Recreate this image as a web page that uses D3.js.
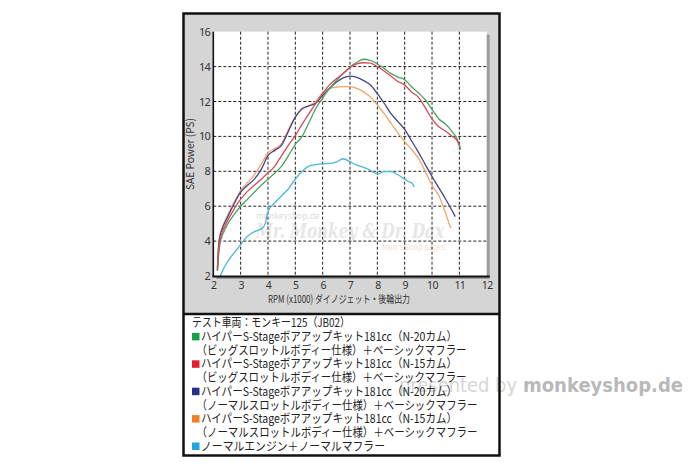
<!DOCTYPE html>
<html>
<head>
<meta charset="utf-8">
<script src="https://cdnjs.cloudflare.com/ajax/libs/d3/7.8.5/d3.min.js"></script>
<style>
  html, body { margin: 0; padding: 0; background: #fff; }
  svg { display: block; }
</style>
</head>
<body>
<svg id="chart" width="700" height="467"></svg>
<script>
// ---------- data ----------
const xTicks = [2, 3, 4, 5, 6, 7, 8, 9, 10, 11, 12];
const yTicks = [2, 4, 6, 8, 10, 12, 14, 16];

const rpmGreen = [2.15, 2.2, 2.25, 2.35, 2.5, 2.75, 3.0, 3.25, 3.5, 3.75, 4.0, 4.25, 4.5, 4.75, 5.0, 5.25, 5.5, 5.75, 6.0, 6.25, 6.5, 6.75, 7.0, 7.25, 7.5, 7.75, 8.0, 8.25, 8.5, 8.75, 9.0, 9.25, 9.5, 9.75, 10.0, 10.25, 10.5, 10.75, 10.9, 11.05];
const psGreen  = [2.3, 3.3, 3.9, 4.4, 4.9, 5.5, 6.0, 6.4, 6.8, 7.2, 7.55, 7.9, 8.3, 8.9, 9.55, 10.0, 10.8, 11.6, 12.2, 12.75, 13.2, 13.6, 13.98, 14.25, 14.42, 14.35, 14.15, 13.9, 13.6, 13.4, 13.25, 12.85, 12.5, 12.1, 11.55, 11.0, 10.7, 10.25, 9.9, 9.25];

const rpmRed = [2.15, 2.2, 2.25, 2.35, 2.5, 2.75, 3.0, 3.25, 3.5, 3.75, 4.0, 4.25, 4.5, 4.75, 5.0, 5.25, 5.5, 5.75, 6.0, 6.25, 6.5, 6.75, 7.0, 7.25, 7.5, 7.75, 8.0, 8.25, 8.5, 8.75, 9.0, 9.25, 9.5, 9.75, 10.0, 10.25, 10.5, 10.75, 10.9, 11.02];
const psRed  = [2.4, 3.6, 4.1, 4.6, 5.1, 5.8, 6.4, 6.85, 7.2, 7.55, 7.9, 8.3, 8.9, 9.5, 10.05, 10.7, 11.3, 11.9, 12.45, 12.95, 13.3, 13.6, 13.95, 14.15, 14.22, 14.2, 14.0, 13.75, 13.45, 13.15, 12.95, 12.55, 12.25, 11.65, 11.0, 10.55, 10.3, 10.0, 9.8, 9.4];

const rpmBlue = [2.15, 2.2, 2.25, 2.35, 2.5, 2.75, 3.0, 3.25, 3.5, 3.75, 4.0, 4.25, 4.5, 4.75, 5.0, 5.25, 5.5, 5.75, 6.0, 6.25, 6.5, 6.75, 7.0, 7.25, 7.5, 7.75, 8.0, 8.25, 8.5, 8.75, 9.0, 9.25, 9.5, 9.75, 10.0, 10.25, 10.5, 10.75, 10.85];
const psBlue  = [2.3, 3.8, 4.3, 4.8, 5.3, 6.1, 6.8, 7.2, 7.55, 8.1, 8.9, 9.2, 9.5, 10.3, 11.1, 11.6, 11.75, 11.9, 12.35, 12.75, 13.1, 13.35, 13.45, 13.38, 13.2, 12.95, 12.45, 11.9, 11.3, 10.85, 10.4, 9.75, 9.1, 8.4, 7.7, 7.05, 6.4, 5.7, 5.4];

const rpmOrange = [2.15, 2.2, 2.25, 2.35, 2.5, 2.75, 3.0, 3.25, 3.5, 3.75, 4.0, 4.25, 4.5, 4.75, 5.0, 5.25, 5.5, 5.75, 6.0, 6.25, 6.5, 6.75, 7.0, 7.25, 7.5, 7.75, 8.0, 8.25, 8.5, 8.75, 9.0, 9.25, 9.5, 9.75, 10.0, 10.25, 10.5, 10.65, 10.7];
const psOrange  = [2.5, 3.9, 4.4, 4.9, 5.4, 6.2, 6.9, 7.35, 7.8, 8.4, 9.05, 9.3, 9.6, 10.4, 11.1, 11.55, 11.75, 12.0, 12.5, 12.75, 12.82, 12.85, 12.85, 12.75, 12.55, 12.25, 11.8, 11.3, 10.75, 10.2, 9.7, 9.25, 8.75, 8.0, 7.2, 6.6, 5.6, 4.9, 4.75];

const rpmCyan = [2.25, 2.4, 2.6, 2.8, 3.0, 3.2, 3.4, 3.6, 3.8, 3.9, 4.0, 4.25, 4.5, 4.75, 5.0, 5.25, 5.5, 5.75, 6.0, 6.25, 6.5, 6.75, 7.0, 7.25, 7.5, 7.75, 8.0, 8.25, 8.5, 8.75, 9.0, 9.15, 9.25, 9.35];
const psCyan  = [2.0, 2.5, 3.0, 3.4, 3.8, 4.2, 4.45, 4.6, 4.75, 5.0, 5.7, 6.2, 6.6, 7.0, 7.55, 8.0, 8.3, 8.38, 8.43, 8.45, 8.52, 8.72, 8.55, 8.35, 8.22, 8.05, 7.85, 7.98, 7.98, 7.8, 7.55, 7.4, 7.35, 7.1];

const seriesNames = ["green", "red", "blue", "orange", "cyan"];
const lineColors = ["#4aa35e", "#d9485a", "#44448e", "#f0a468", "#4cb6d6"];
const legendColors = ["#17a04a", "#e31e30", "#283088", "#f07f2a", "#1ea6e0"];

const legendTitle = "テスト車両：モンキー125（JB02）";
const legendLines = [
  ["ハイパーS-Stageボアアップキット181cc（N-20カム）", "（ビッグスロットルボディー仕様）＋ベーシックマフラー"],
  ["ハイパーS-Stageボアアップキット181cc（N-15カム）", "（ビッグスロットルボディー仕様）＋ベーシックマフラー"],
  ["ハイパーS-Stageボアアップキット181cc（N-20カム）", "（ノーマルスロットルボディー仕様）＋ベーシックマフラー"],
  ["ハイパーS-Stageボアアップキット181cc（N-15カム）", "（ノーマルスロットルボディー仕様）＋ベーシックマフラー"],
  ["ノーマルエンジン＋ノーマルマフラー"]
];
const xTitle = "RPM (x1000) ダイノジェット・後輪出力";
const yTitle = "SAE Power (PS)";

const seriesData = [
  d3.zip(rpmGreen, psGreen),
  d3.zip(rpmRed, psRed),
  d3.zip(rpmBlue, psBlue),
  d3.zip(rpmOrange, psOrange),
  d3.zip(rpmCyan, psCyan)
];

// ---------- drawing ----------
const svg = d3.select("#chart");
const JP = "'Noto Sans CJK JP', 'Noto Sans', sans-serif";

const x = d3.scaleLinear().domain([2, 12]).range([213.3, 486.7]);
const y = d3.scaleLinear().domain([2, 16]).range([276, 31.7]);

// outer panel
svg.append("rect").attr("x", 183.5).attr("y", 13.5).attr("width", 316).attr("height", 442)
  .attr("fill", "#d5d5d5");
// legend background
svg.append("rect").attr("x", 183.5).attr("y", 314).attr("width", 316).attr("height", 141.5)
  .attr("fill", "#ffffff");

// plot shadow + plot area
svg.append("rect").attr("x", x(2) + 3).attr("y", y(16) + 3)
  .attr("width", x(12) - x(2)).attr("height", y(2) - y(16))
  .attr("fill", "#9c9c9c");
svg.append("rect").attr("x", x(2)).attr("y", y(16))
  .attr("width", x(12) - x(2)).attr("height", y(2) - y(16))
  .attr("fill", "#ffffff");

// in-plot watermark
const wm = svg.append("g");
wm.append("text").attr("x", 256).attr("y", 219).attr("font-family", JP).attr("font-size", 8.5)
  .attr("fill", "#dcdcdc").text("monkeyshop.de");
wm.append("text").attr("x", 350).attr("y", 238).attr("text-anchor", "middle")
  .attr("font-family", "'DejaVu Serif', 'Liberation Serif', serif").attr("font-style", "italic")
  .attr("font-weight", "bold").attr("font-size", 20).attr("fill", "#e6e6e6")
  .attr("textLength", 188).attr("lengthAdjust", "spacingAndGlyphs")
  .text("Mr. Monkey & Dr. Dax");
wm.append("text").attr("x", 382).attr("y", 250).attr("font-family", JP).attr("font-size", 7.5)
  .attr("fill", "#f5dccb").text("Mon's Shop pages");

// grid
const grid = svg.append("g").attr("stroke", "#222").attr("stroke-width", 1)
  .attr("stroke-dasharray", "3,2");
grid.selectAll("line.v").data(xTicks.filter(d => d > 2 && d < 12)).join("line")
  .attr("x1", d => x(d)).attr("x2", d => x(d)).attr("y1", y(16)).attr("y2", y(2));
grid.selectAll("line.h").data(yTicks.filter(d => d > 2 && d < 16)).join("line")
  .attr("x1", x(2)).attr("x2", x(12)).attr("y1", d => y(d)).attr("y2", d => y(d));

// curves
const line = d3.line().x(d => x(d[0])).y(d => y(d[1])).curve(d3.curveMonotoneX);
const drawOrder = [4, 3, 2, 0, 1];
svg.append("g").selectAll("path").data(drawOrder).join("path")
  .attr("d", i => line(seriesData[i]))
  .attr("fill", "none").attr("stroke", i => lineColors[i]).attr("stroke-width", 1.3)
  .attr("stroke-linejoin", "round");

// axes lines
svg.append("line").attr("x1", x(2)).attr("x2", x(2)).attr("y1", y(16)).attr("y2", y(2))
  .attr("stroke", "#111").attr("stroke-width", 1.6);
svg.append("line").attr("x1", x(2) - 1).attr("x2", x(12) + 3).attr("y1", y(2) + 0.5).attr("y2", y(2) + 0.5)
  .attr("stroke", "#111").attr("stroke-width", 2.2);

// axes labels via d3 axes
const yAxis = svg.append("g").attr("transform", `translate(${x(2)},0)`)
  .call(d3.axisLeft(y).tickValues(yTicks).tickSize(0).tickPadding(3).tickFormat(d3.format("d")));
yAxis.select(".domain").remove();
yAxis.selectAll("text").attr("font-family", "'Noto Sans', sans-serif").attr("font-size", 11)
  .attr("fill", "#333").attr("letter-spacing", "-0.6");

const xAxis = svg.append("g").attr("transform", `translate(0,${y(2)})`)
  .call(d3.axisBottom(x).tickValues(xTicks).tickSize(0).tickPadding(6).tickFormat(d3.format("d")));
xAxis.select(".domain").remove();
xAxis.selectAll("text").attr("font-family", "'Noto Sans', sans-serif").attr("font-size", 10.5)
  .attr("fill", "#333").attr("letter-spacing", "-0.6");

// axis titles
svg.append("text").attr("x", 339).attr("y", 302.5).attr("text-anchor", "middle")
  .attr("font-family", JP).attr("font-size", 10.5).attr("fill", "#333")
  .attr("textLength", 142).attr("lengthAdjust", "spacingAndGlyphs").text(xTitle);
svg.append("text").attr("transform", "translate(194,154) rotate(-90)").attr("text-anchor", "middle")
  .attr("font-family", JP).attr("font-size", 11).attr("fill", "#333")
  .attr("textLength", 72).attr("lengthAdjust", "spacingAndGlyphs").text(yTitle);

// outside watermark
const wm2 = svg.append("g").attr("font-family", "'DejaVu Sans', sans-serif").attr("font-size", 20);
wm2.append("text").attr("x", 517).attr("y", 392).attr("text-anchor", "end")
  .attr("fill", "#d6d6d6").attr("textLength", 118).attr("lengthAdjust", "spacingAndGlyphs")
  .text("presented by");
wm2.append("text").attr("x", 523).attr("y", 392).attr("font-weight", "bold")
  .attr("fill", "#b9b9b9").attr("textLength", 160).attr("lengthAdjust", "spacingAndGlyphs")
  .text("monkeyshop.de");

// borders
svg.append("rect").attr("x", 183.5).attr("y", 13.5).attr("width", 316).attr("height", 442)
  .attr("fill", "none").attr("stroke", "#111").attr("stroke-width", 2.5);
svg.append("line").attr("x1", 183.5).attr("x2", 499.5).attr("y1", 314).attr("y2", 314)
  .attr("stroke", "#111").attr("stroke-width", 2.5);

// legend text
const lg = svg.append("g").attr("font-family", JP).attr("font-size", 12).attr("fill", "#222");
const lineStep = 13.7;
const base0 = 327.3;
lg.append("text").attr("x", 192).attr("y", base0).attr("textLength", 158)
  .attr("lengthAdjust", "spacingAndGlyphs").text(legendTitle);
let row = 1;
legendLines.forEach((lines, i) => {
  const cy = base0 - 4.3 + row * lineStep;
  lg.append("rect").attr("x", 192).attr("y", cy - 3.8).attr("width", 7.5).attr("height", 7.5)
    .attr("fill", legendColors[i]);
  lines.forEach((t, j) => {
    const isFirst = j === 0;
    let len;
    if (isFirst) len = (t.length > 20) ? 256 : 184;
    else len = t.includes("ノーマル") ? 281 : 270;
    lg.append("text").attr("x", isFirst ? 201 : 196.5).attr("y", base0 + row * lineStep)
      .attr("textLength", len).attr("lengthAdjust", "spacingAndGlyphs").text(t);
    row++;
  });
});
</script>
</body>
</html>
